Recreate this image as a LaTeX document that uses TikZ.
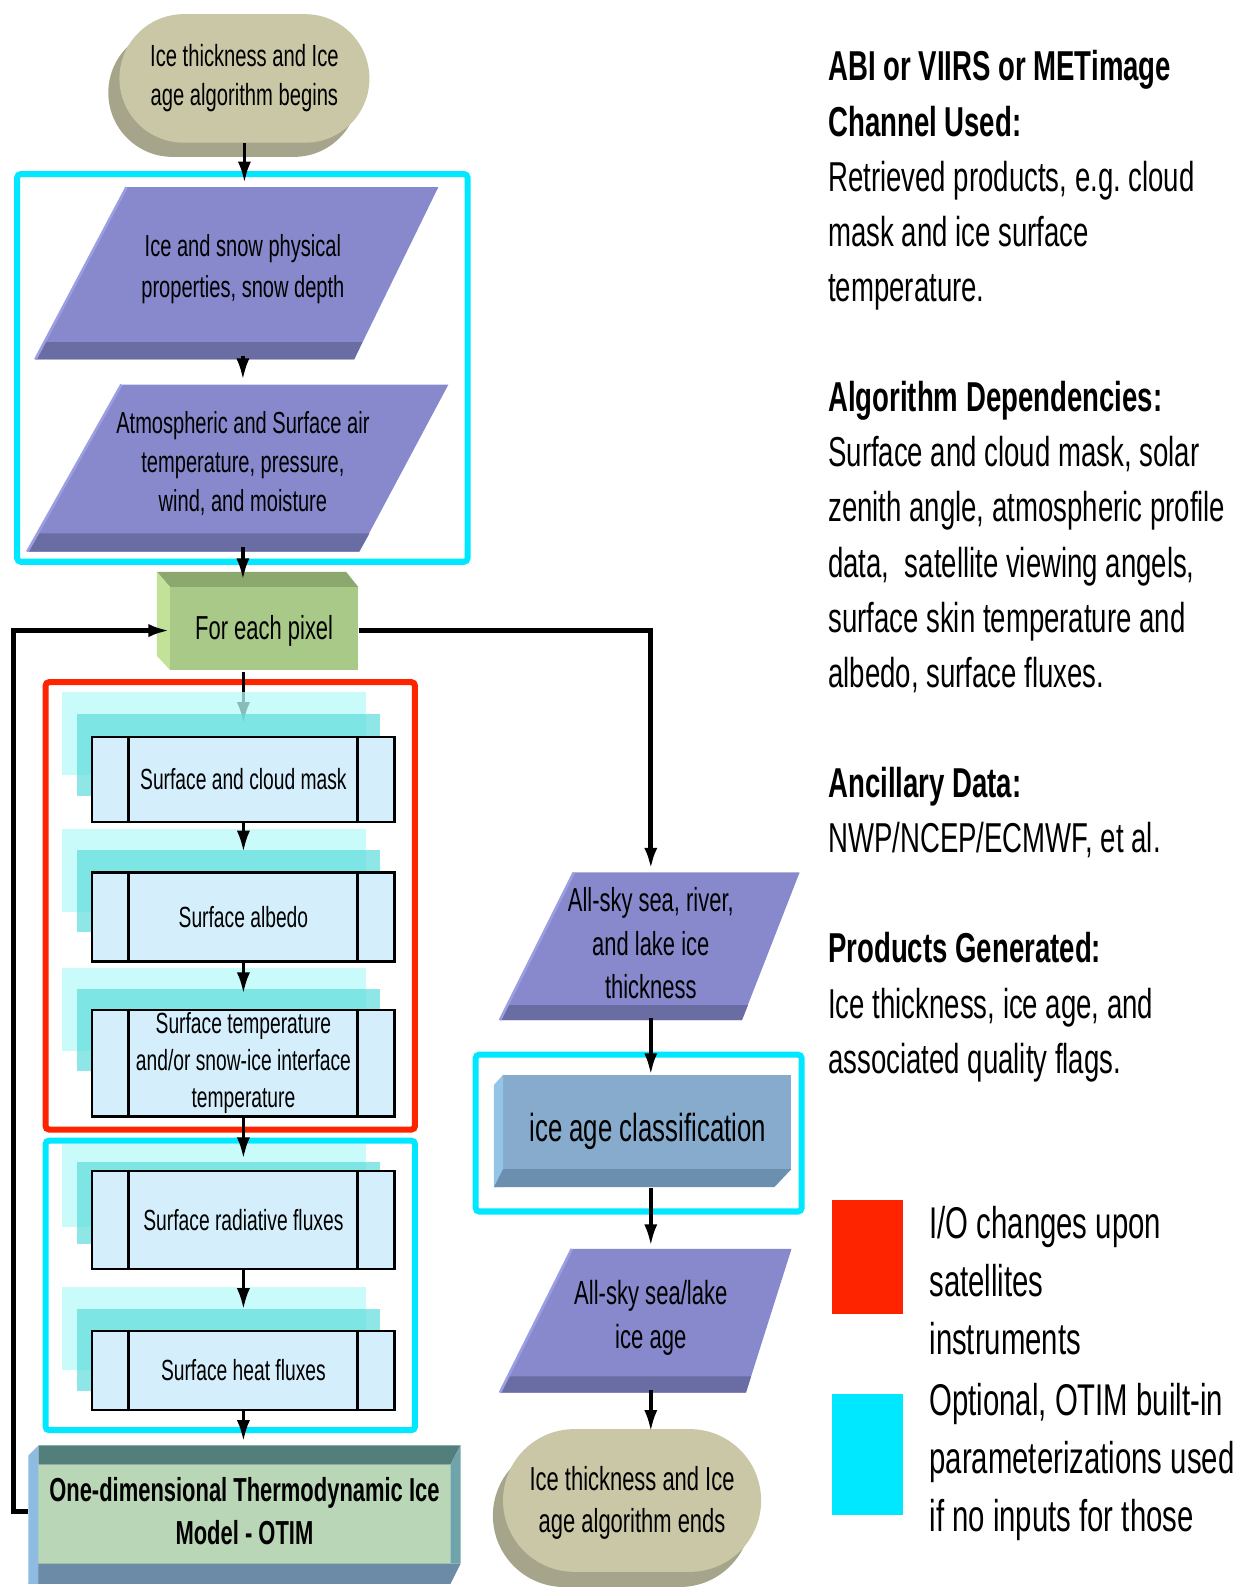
\documentclass[tikz,border=0pt]{standalone}
\usepackage{fontspec}
\setmainfont{Liberation Sans}[FakeStretch=0.66]
\usetikzlibrary{arrows.meta}
\frenchspacing

\definecolor{termface}{HTML}{C9C7A6}
\definecolor{termshade}{HTML}{A6A48A}
\definecolor{parface}{HTML}{8789CC}
\definecolor{parband}{HTML}{6A6CA4}
\definecolor{paredge}{HTML}{9C9EE2}
\definecolor{pixface}{HTML}{A9C989}
\definecolor{pixtop}{HTML}{8CA86E}
\definecolor{pixside}{HTML}{C2E29A}
\definecolor{modfill}{HTML}{D4EEFB}
\definecolor{shlight}{HTML}{B8FAFA}
\definecolor{shteal}{HTML}{5EDDDB}
\definecolor{frred}{HTML}{FF2400}
\definecolor{frcyan}{HTML}{00E8FF}
\definecolor{otimface}{HTML}{B9D6B6}
\definecolor{otimtop}{HTML}{527F7B}
\definecolor{otimleft}{HTML}{8EBCE0}
\definecolor{otimright}{HTML}{6FA5AA}
\definecolor{otimbot}{HTML}{6B8BA6}
\definecolor{clsface}{HTML}{86ABCC}
\definecolor{clsleft}{HTML}{94C4E8}
\definecolor{clsbot}{HTML}{6B8FAE}

\pgfdeclarelayer{back}
\pgfsetlayers{back,main}

\begin{document}
\begin{tikzpicture}[x=0.02cm,y=-0.02cm,
  >={Latex[length=0.42cm,width=0.26cm]},
  flow/.style={draw,line width=2pt,->},
  loop/.style={draw,line width=2.8pt,->},
  frame/.style={draw,line width=3.4pt,rounded corners=2pt},
  txt/.style={inner sep=0pt,align=center},
  note/.style={anchor=base west,align=flush left,inner sep=0pt},
  module/.style={draw,line width=1.4pt,fill=modfill,minimum width=5.98cm,
    inner sep=0pt,align=center,font=\fontsize{16.4}{20.7}\selectfont}]
\useasboundingbox (0,0) rectangle (1225,1568);

% start / end terminators
\fill[termshade,rounded corners=1.27cm] (107,28) rectangle (354,155);
\fill[termface,rounded corners=1.27cm] (118,14) rectangle (365,141);
\fill[termshade,rounded corners=1.41cm] (487,1427) rectangle (742,1568);
\fill[termface,rounded corners=1.41cm] (497,1412) rectangle (752,1553);

% input parallelograms
\fill[parface] (125,185) -- (433,185) -- (350,355) -- (35,355) -- cycle;
\fill[parband] (44,338) -- (358,338) -- (350,355) -- (35,355) -- cycle;
\draw[paredge,line width=1.5pt] (35,355) -- (125,185);
\fill[parface] (120,380) -- (443,380) -- (355,545) -- (27,545) -- cycle;
\fill[parband] (37,527) -- (365,527) -- (355,545) -- (27,545) -- cycle;
\draw[paredge,line width=1.5pt] (27,545) -- (120,380);

% output parallelograms
\fill[parface] (567,862) -- (790,862) -- (733,1008) -- (494,1008) -- cycle;
\fill[parband] (502,993) -- (739,993) -- (733,1008) -- (494,1008) -- cycle;
\draw[paredge,line width=1.5pt] (494,1008) -- (567,862);
\fill[parface] (565,1234) -- (782,1234) -- (737,1376) -- (494,1376) -- cycle;
\fill[parband] (502,1360) -- (742,1360) -- (737,1376) -- (494,1376) -- cycle;
\draw[paredge,line width=1.5pt] (494,1376) -- (565,1234);

% for each pixel block
\fill[pixtop] (155,565) -- (342,565) -- (354,580) -- (168,580) -- cycle;
\fill[pixside] (155,565) -- (168,580) -- (168,662) -- (155,648) -- cycle;
\fill[pixface] (168,580) rectangle (354,662);

% OTIM block
\fill[otimface] (38,1447) rectangle (445,1545);
\fill[otimtop] (38,1428) -- (455,1428) -- (445,1447) -- (38,1447) -- cycle;
\fill[otimright] (445,1447) -- (455,1428) -- (455,1545) -- (445,1545) -- cycle;
\fill[otimbot] (28,1565) -- (445,1565) -- (455,1545) -- (38,1545) -- cycle;
\fill[otimleft] (28,1438) -- (38,1428) -- (38,1565) -- (28,1565) -- cycle;

% classification block
\fill[clsface] (497,1062) rectangle (782,1155);
\fill[clsleft] (488,1072) -- (497,1062) -- (497,1173) -- (488,1173) -- cycle;
\fill[clsbot] (488,1173) -- (765,1173) -- (782,1155) -- (497,1155) -- cycle;

% module shadows
\foreach \lt/\tt in {684/705,819/840,956/977,1130/1148,1272/1293} {
  \fill[shlight,fill opacity=0.75] (61,\lt) rectangle ++(301,82);
  \fill[shteal,fill opacity=0.7] (76,\tt) rectangle ++(299,81);
}

\node[txt,minimum width=4.94cm,minimum height=2.54cm,font=\fontsize{17.2}{22}\selectfont] (start) at (241.5,77.5) {Ice thickness and Ice\\age algorithm begins};
\node[txt,minimum width=6cm,minimum height=3.4cm,font=\fontsize{17.1}{22.7}\selectfont] (in1) at (240,266) {Ice and snow physical\\properties, snow depth};
\node[txt,minimum width=6cm,minimum height=3.3cm,font=\fontsize{17.1}{21.8}\selectfont] (in2) at (240,458) {Atmospheric and Surface air\\temperature, pressure,\\wind, and moisture};
\node[txt,minimum width=3.72cm,minimum height=1.64cm,font=\fontsize{18.7}{22}\selectfont] (pix) at (261,623) {For each pixel};

\node[module,minimum height=1.68cm] (m1) at (240.5,770) {Surface and cloud mask};
\node[module,minimum height=1.76cm] (m2) at (240.5,906) {Surface albedo};
\node[module,minimum height=2.1cm] (m3) at (240.5,1050.5) {Surface temperature\\and/or snow-ice interface\\temperature};
\node[module,minimum height=1.94cm] (m4) at (240.5,1205.5) {Surface radiative fluxes};
\node[module,minimum height=1.56cm] (m5) at (240.5,1354) {Surface heat fluxes};
\foreach \m in {m1,m2,m3,m4,m5} {
  \draw[line width=1.4pt] ([xshift=0.74cm]\m.north west) -- ([xshift=0.74cm]\m.south west);
  \draw[line width=1.4pt] ([xshift=-0.76cm]\m.north east) -- ([xshift=-0.76cm]\m.south east);
}

\node[txt,minimum width=8.54cm,minimum height=2.74cm,font=\bfseries\fontsize{18.7}{23.8}\selectfont] (otim) at (241.5,1493) {One-dimensional Thermodynamic Ice\\Model - OTIM};

\node[txt,minimum width=4cm,minimum height=2.92cm,font=\fontsize{18.7}{24.4}\selectfont] (out1) at (643,932) {All-sky sea, river,\\and lake ice\\thickness};
\node[txt,minimum width=5.88cm,minimum height=2.22cm,font=\fontsize{22}{26}\selectfont] (cls) at (635,1117.5) {\hspace{0.2cm}ice age classification};
\node[txt,minimum width=4cm,minimum height=2.84cm,font=\fontsize{18.8}{24.4}\selectfont] (out2) at (643,1302) {All-sky sea/lake\\ice age};
\node[txt,minimum width=5.1cm,minimum height=2.82cm,font=\fontsize{18.7}{23.8}\selectfont] (stop) at (624.5,1485) {Ice thickness and Ice\\age algorithm ends};

% side notes
\node[note,text width=8.6cm,font=\fontsize{23.5}{31}\selectfont] (notes) at (818,80) {\textbf{ABI or VIIRS or METimage}\\\textbf{Channel Used:}\\Retrieved products, e.g. cloud\\mask and ice surface\\temperature.\\[31pt]\textbf{Algorithm Dependencies:}\\Surface and cloud mask, solar\\zenith angle, atmospheric profile\\data,\ \ satellite viewing angels,\\surface skin temperature and\\albedo, surface fluxes.\\[31pt]\textbf{Ancillary Data:}\\NWP/NCEP/ECMWF, et al.\\[31pt]\textbf{Products Generated:}\\Ice thickness, ice age, and\\associated quality flags.};

% legend
\node[fill=frred,minimum width=1.4cm,minimum height=2.24cm,inner sep=0pt] (keyred) at (857,1242) {};
\node[fill=frcyan,minimum width=1.4cm,minimum height=2.4cm,inner sep=0pt] (keycyan) at (857,1437) {};
\node[note,text width=6.4cm,font=\fontsize{25}{32.6}\selectfont] (keyredtext) at (918,1224) {I/O changes upon\\satellites\\instruments};
\node[note,text width=6.4cm,font=\fontsize{25}{32.6}\selectfont] (keycyantext) at (918,1399) {Optional, OTIM built-in\\parameterizations used\\if no inputs for those};

\begin{pgfonlayer}{back}
\draw[frame,frcyan] (17,172) rectangle (462,555);
\draw[frame,frred] (45,674) rectangle (410,1116);
\draw[frame,frcyan] (45,1127) rectangle (410,1413);
\draw[frame,frcyan] (470,1042) rectangle (792,1197);
\path[flow,shorten >=0.24cm] (m1 |- pix.south) -- (m1.north);
\end{pgfonlayer}

\path[flow] (start.south) -- (start.south |- in1.north);
\path[flow] (in1.south) -- (in2.north);
\path[flow,shorten >=0.18cm] (in2.south) -- (in2.south |- pix.north);
\path[flow,shorten >=0.38cm] (m1.south) -- (m2.north);
\path[flow,shorten >=0.3cm] (m2.south) -- (m3.north);
\path[flow,shorten >=0.22cm] (m3.south) -- (m4.north);
\path[flow,shorten >=0.4cm] (m4.south) -- (m5.north);
\path[flow] (m5.south) -- (m5.south |- otim.north);
\path[loop] (otim.west) -- ++(-14,0) |- (pix.west);
\path[loop] (pix.east) -| (out1.north);
\path[flow] (out1.south) -- (out1.south |- cls.north);
\path[flow] (out2 |- cls.south) -- (out2.north);
\path[flow] (out2.south) -- (out2.south |- stop.north);
\end{tikzpicture}
\end{document}
